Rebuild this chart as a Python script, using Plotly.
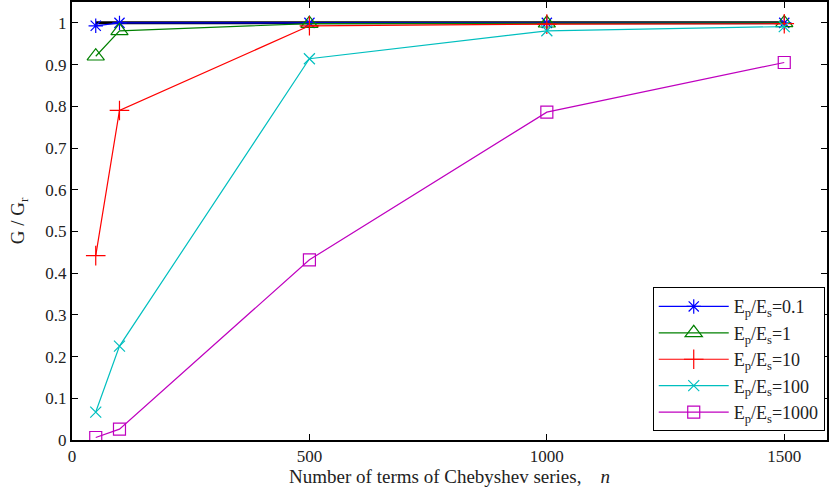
import plotly.graph_objects as go

n_terms = [50, 100, 500, 1000, 1500]
ratio_01 = [0.993, 1.0, 1.0, 1.0, 1.0]
ratio_1 = [0.920, 0.981, 0.998, 0.999, 1.0]
ratio_10 = [0.442, 0.790, 0.993, 0.997, 0.998]
ratio_100 = [0.067, 0.225, 0.914, 0.981, 0.991]
ratio_1000 = [0.006, 0.026, 0.432, 0.786, 0.905]
ref_x = [50, 1500]
ref_y = [1.0, 1.0]

labels = ["E<sub>p</sub>/E<sub>s</sub>=0.1", "E<sub>p</sub>/E<sub>s</sub>=1",
          "E<sub>p</sub>/E<sub>s</sub>=10", "E<sub>p</sub>/E<sub>s</sub>=100",
          "E<sub>p</sub>/E<sub>s</sub>=1000"]

fig = go.Figure()
fig.add_trace(go.Scatter(x=ref_x, y=ref_y, mode="lines",
                         line=dict(color="black", width=3), showlegend=False))

series = [
    (ratio_01, "#0000ff", "asterisk-open", 12),
    (ratio_1, "#008000", "triangle-up-open", 15),
    (ratio_10, "#ff0000", "cross-thin-open", 14),
    (ratio_100, "#00bfbf", "x-thin-open", 11),
    (ratio_1000, "#bf00bf", "square-open", 12),
]
for (vals, col, sym, sz), lab in zip(series, labels):
    fig.add_trace(go.Scatter(
        x=n_terms, y=vals, mode="lines+markers", name=lab,
        line=dict(color=col, width=1.2),
        marker=dict(symbol=sym, size=sz, color=col, line=dict(color=col, width=1.2)),
    ))

font = "Liberation Serif"
fig.update_layout(
    width=829, height=497,
    margin=dict(l=72, r=0, t=1, b=57),
    plot_bgcolor="white", paper_bgcolor="white",
    font=dict(family=font, size=17, color="#222"),
    showlegend=True,
    legend=dict(x=0.997, xanchor="right", y=0.02, yanchor="bottom",
                bgcolor="white", bordercolor="black", borderwidth=1,
                font=dict(family=font, size=18, color="#222"),
                tracegroupgap=0, itemwidth=70),
    xaxis=dict(range=[0, 1590], tickvals=[0, 500, 1000, 1500],
               ticks="inside", ticklen=6, tickcolor="black",
               tickfont=dict(family=font, size=17, color="#222"),
               showline=True, linecolor="black", linewidth=2, mirror="ticks",
               showgrid=False, zeroline=False,
               title=dict(text="Number of terms of Chebyshev series,    <i>n</i>",
                          font=dict(family=font, size=19, color="#222"), standoff=4)),
    yaxis=dict(range=[0, 1.05], dtick=0.1, tick0=0,
               ticks="inside", ticklen=6, tickcolor="black",
               tickfont=dict(family=font, size=17, color="#222"),
               showline=True, linecolor="black", linewidth=2, mirror="ticks",
               showgrid=False, zeroline=False,
               title=dict(text="G / G<sub>r</sub>",
                          font=dict(family=font, size=19, color="#222"), standoff=16)),
)

fig.write_html("out.html")
